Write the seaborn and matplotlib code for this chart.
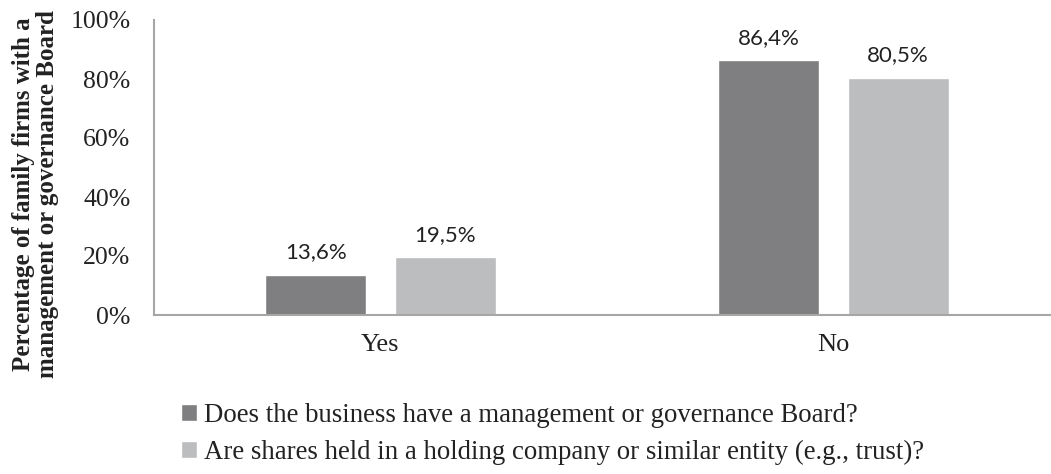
import matplotlib
matplotlib.use("Agg")
import matplotlib.pyplot as plt
import seaborn as sns
import pandas as pd

# Survey answers and shares of family firms (%)
answers = ["Yes", "No"]
board_share = [13.6, 86.4]
holding_share = [19.5, 80.5]
series_names = [
    "Does the business have a management or governance Board?",
    "Are shares held in a holding company or similar entity (e.g., trust)?",
]
y_ticks = [0, 20, 40, 60, 80, 100]
y_label = "Percentage of family firms with a\nmanagement or governance Board"

df = pd.DataFrame({
    "answer": answers * 2,
    "share": board_share + holding_share,
    "series": [series_names[0]] * len(answers) + [series_names[1]] * len(answers),
})

sns.set_theme(style="white")
plt.rcParams["font.family"] = ["Liberation Serif", "DejaVu Serif"]

W, H = 1051, 474
fig = plt.figure(figsize=(W / 100, H / 100), dpi=100)
left_px, right_px, top_px, base_px = 154, 1051, 20, 315
ax = fig.add_axes([left_px / W, (H - base_px) / H,
                   (right_px - left_px) / W, (base_px - top_px) / H])

palette = ["#7f7f82", "#bcbdbf"]
sns.barplot(data=df, x="answer", y="share", hue="series", order=answers,
            hue_order=series_names, palette=palette, width=0.57, gap=0.217,
            saturation=1, ax=ax)

ax.set_ylim(0, 100)
ax.set_xlim(-0.5, -0.5 + (right_px - left_px) / 453)
ax.set_yticks(y_ticks)
ax.set_yticklabels([f"{t}%" for t in y_ticks])
ax.tick_params(axis="y", length=0, pad=17, labelsize=18.5, colors="#222222")
ax.tick_params(axis="x", length=0, pad=14, labelsize=19, colors="#222222")
ax.set_xlabel("")
ax.set_ylabel(y_label, fontsize=18, fontweight="bold", linespacing=1.05,
              color="#222222")
ax.yaxis.set_label_coords(-0.106, 0.41)

for side in ("top", "right"):
    ax.spines[side].set_visible(False)
for side in ("left", "bottom"):
    ax.spines[side].set_color("#a6a6a6")
    ax.spines[side].set_linewidth(1.5)

# Value labels with decimal comma
for container, vals in zip(ax.containers, [board_share, holding_share]):
    ax.bar_label(container, labels=[f"{v:.1f}".replace(".", ",") + "%" for v in vals],
                 padding=9, fontsize=16, family=["Lato", "DejaVu Sans"],
                 color="#222222")

handles, labels = ax.get_legend_handles_labels()
ax.get_legend().remove()
fig.legend(handles, labels, loc="upper left", bbox_to_anchor=(181 / W, 1 - 403 / H),
           frameon=False, fontsize=19.3, handlelength=0.6, handleheight=0.6,
           handletextpad=0.25, labelspacing=0.45, borderaxespad=0, borderpad=0,
           labelcolor="#222222")

fig.savefig("out.png", dpi=100)
